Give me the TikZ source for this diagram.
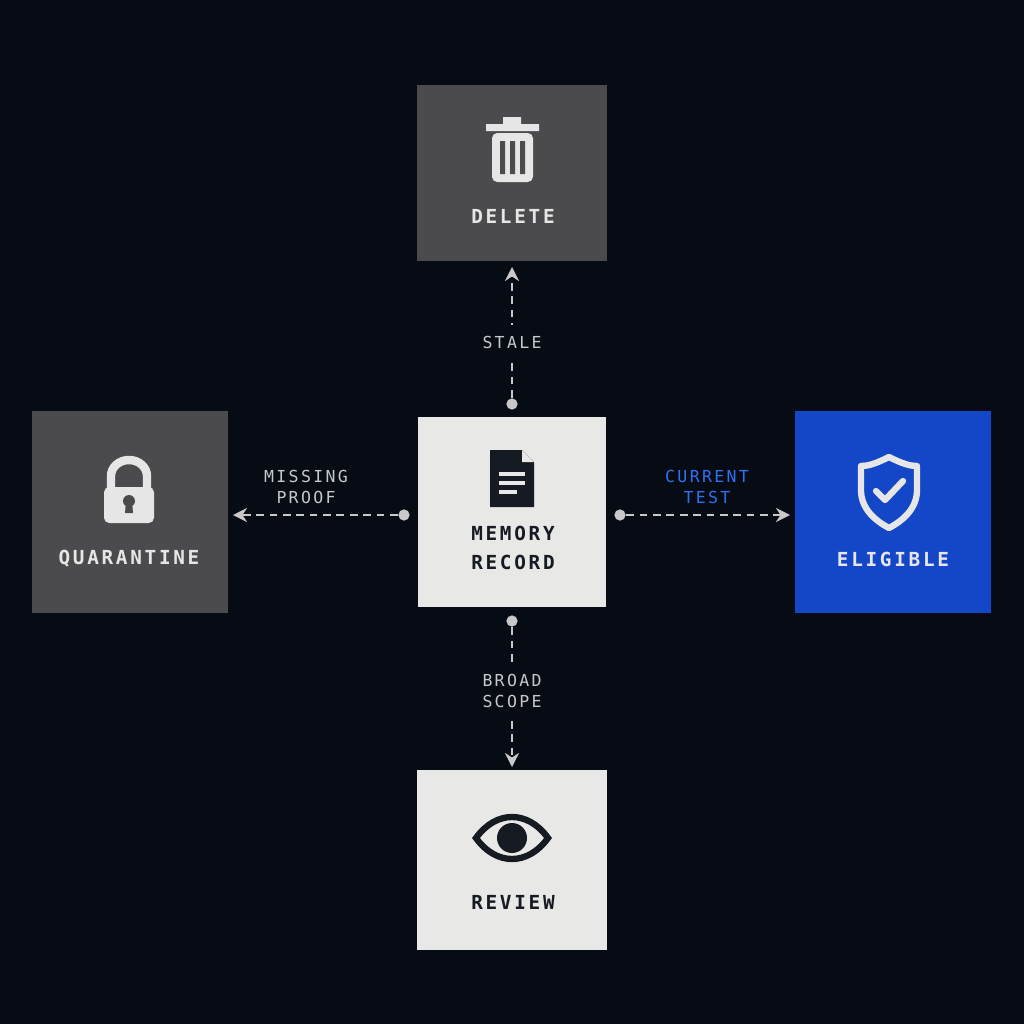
\documentclass[tikz,border=0pt]{standalone}
\usepackage{fontspec}
\setmonofont{DejaVu Sans Mono}
\usetikzlibrary{positioning,arrows.meta}
\definecolor{bgc}{HTML}{070B14}
\definecolor{darkbox}{HTML}{4B4B4D}
\definecolor{lightbox}{HTML}{E8E8E6}
\definecolor{bluebox}{HTML}{1446C8}
\definecolor{inkdark}{HTML}{161A22}
\definecolor{inklight}{HTML}{E6E6E6}
\definecolor{edgegrey}{HTML}{C8C8C8}
\definecolor{edgeblue}{HTML}{2F70F2}
\newcommand{\spaced}[1]{\addfontfeature{LetterSpace=14}#1}
\begin{document}
\begin{tikzpicture}[x=0.01cm,y=-0.01cm,
	state/.style={draw=none,minimum width=1.9cm,minimum height=1.9cm,inner sep=0pt},
	dark state/.style={state,fill=darkbox,text=inklight},
	light state/.style={state,fill=lightbox,text=inkdark},
	name text/.style={font=\ttfamily\fontsize{5.5}{8}\selectfont\bfseries,align=center},
	edge text/.style={font=\ttfamily\fontsize{4.7}{6.2}\selectfont,text=edgegrey,align=center},
	link/.style={draw=edgegrey,line width=0.5pt,dash pattern=on 2.2pt off 1.6pt,-{Stealth[length=4pt,width=4pt]}},
	dot/.style={circle,fill=edgegrey,inner sep=0pt,minimum size=3.2pt}]
	\fill[bgc] (0,0) rectangle (1024,1024);
	
	% boxes
	\node[dark state,minimum width=1.9cm,minimum height=1.75cm] (delete) at (512,173) {};
	\node[light state,minimum width=1.88cm] (record) at (512,512) {};
	\node[dark state,minimum width=1.95cm,minimum height=2.01cm] (quarantine) at (130,512) {};
	\node[state,fill=bluebox,minimum width=1.96cm,minimum height=2.01cm] (eligible) at (893,512) {};
	\node[light state,minimum height=1.79cm] (review) at (512,860) {};
	
	\node[name text,text=inklight] (tdelete) at (513,216) {\spaced{DELETE}};
	\node[name text,text=inkdark] (trecord) at (513,548) {\spaced{MEMORY}\\\spaced{RECORD}};
	\node[name text,text=inklight] (tquarantine) at (129,559) {\spaced{QUARANTINE}};
	\node[name text,text=inklight] (teligible) at (893,559) {\spaced{ELIGIBLE}};
	\node[name text,text=inkdark] (treview) at (513,902) {\spaced{REVIEW}};
	
	% icons
	\fill[inklight] (503,117) rectangle (521,126) (486,124) rectangle (539,131);
	\fill[inklight,rounded corners=1.5pt] (492,133) rectangle (533,182);
	\fill[darkbox] (500,141) rectangle (505,174) (510,141) rectangle (515,174) (520,141) rectangle (525,174);
	\draw[inklight,line width=2.4pt] (111,490) -- (111,476) arc[start angle=180,end angle=0,x radius=18,y radius=-16] -- (147,490);
	\fill[inklight,rounded corners=1.5pt] (104,487) rectangle (154,523);
	\fill[darkbox] (129,501) circle (6) (126,501) -- (132,501) -- (133,513) -- (125,513) -- cycle;
	\fill[inkdark] (490,450) -- (522,450) -- (534,462) -- (534,507) -- (490,507) -- cycle;
	\fill[lightbox] (522,450) -- (522,462) -- (534,462) -- cycle;
	\draw[lightbox,line width=1.2pt] (499,474) -- (525,474) (499,483) -- (525,483) (499,492) -- (517,492);
	\draw[inklight,line width=1.8pt,line join=round] (889,457) .. controls (875,464) and (868,466) .. (861,466) -- (861,490) .. controls (861,508) and (874,520) .. (889,528) .. controls (904,520) and (917,508) .. (917,490) -- (917,466) .. controls (910,466) and (903,464) .. (889,457) -- cycle;
	\draw[inklight,line width=1.8pt,line cap=round,line join=round] (876,491) -- (885,500) -- (903,481);
	\draw[inkdark,line width=1.8pt] (476,838) .. controls (496,810) and (528,810) .. (548,838) .. controls (528,866) and (496,866) .. (476,838) -- cycle;
	\fill[inkdark] (512,838) circle (15);
	
	% connectors
	\node[dot] (dup) at (512,404) {};
	\node[dot] (dleft) at (404,515) {};
	\node[dot] (dright) at (620,515) {};
	\node[dot] (ddown) at (512,621) {};
	\coordinate (eup) at (512,267);
	\coordinate (eleft) at (233,515);
	\coordinate (eright) at (790,515);
	\coordinate (edown) at (512,767);
	\draw[link] (dup) -- (eup);
	\draw[link] (dleft) -- (eleft);
	\draw[link] (dright) -- (eright);
	\draw[link] (ddown) -- (edown);
	\node[edge text,fill=bgc,inner sep=3pt] (lstale) at (512,342) {\spaced{STALE}};
	\node[edge text] (lmissing) at (306,487) {\spaced{MISSING}\\\spaced{PROOF}};
	\node[edge text,text=edgeblue] (lcurrent) at (707,487) {\spaced{CURRENT}\\\spaced{TEST}};
	\node[edge text,fill=bgc,inner sep=3pt] (lbroad) at (512,691) {\spaced{BROAD}\\\spaced{SCOPE}};
\end{tikzpicture}
\end{document}
